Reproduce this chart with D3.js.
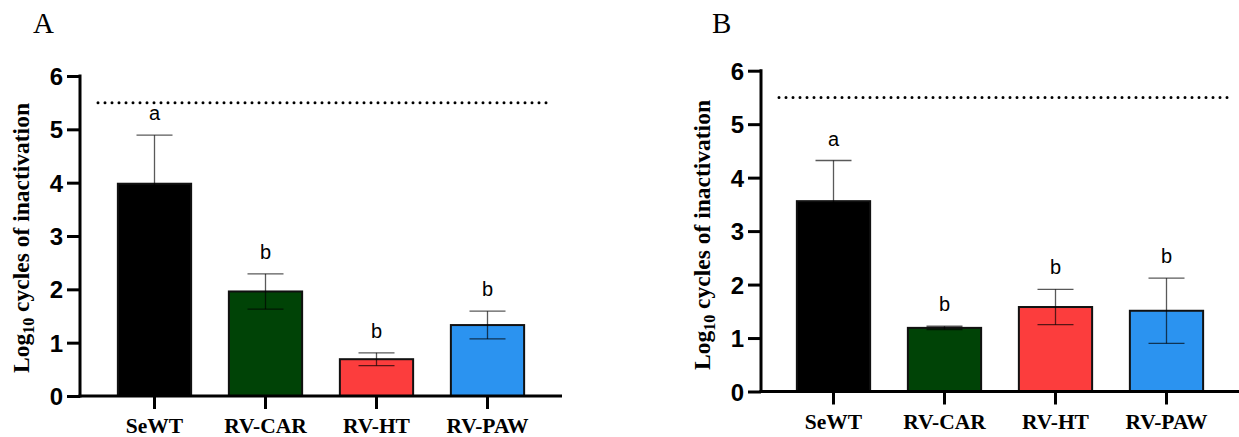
<!DOCTYPE html>
<html>
<head>
<meta charset="utf-8">
<script src="https://cdn.jsdelivr.net/npm/d3@7"></script>
<style>
  body { margin: 0; background: #fff; }
  svg { display: block; }
</style>
</head>
<body>
<div id="chart"></div>
<script>
// ========================
// Data
// ========================
const groups = ["SeWT", "RV-CAR", "RV-HT", "RV-PAW"];
const colors = ["#000000", "#004306", "#fc3d3d", "#2b93f0"];
const yTicks = [0, 1, 2, 3, 4, 5, 6];
const detectionLimit = 5.5;

const meansA = [3.98, 1.96, 0.69, 1.33];
const sdA = [0.91, 0.33, 0.12, 0.26];
const lettersA = ["a", "b", "b", "b"];

const meansB = [3.56, 1.19, 1.58, 1.51];
const sdB = [0.76, 0.03, 0.33, 0.61];
const lettersB = ["a", "b", "b", "b"];

const width = 1239, height = 437;

const svg = d3.select("#chart")
  .append("svg")
  .attr("width", width)
  .attr("height", height);

function drawPanel(opts) {
  const g = svg.append("g");

  const y = d3.scaleLinear().domain([0, 6]).range([opts.y0, opts.y6]);
  const x = d3.scaleBand()
    .domain(groups)
    .range([opts.bandStart, opts.bandStart + 444])
    .paddingInner(0.34)
    .paddingOuter(0.17);

  // panel letter
  g.append("text")
    .attr("x", opts.letterX)
    .attr("y", 33)
    .style("font-family", "'Liberation Serif', 'Times New Roman', serif")
    .style("font-size", "29px")
    .text(opts.letter);

  // detection limit (dotted)
  g.append("line")
    .attr("x1", opts.axisX + 18)
    .attr("x2", opts.axisX + 473)
    .attr("y1", y(detectionLimit))
    .attr("y2", y(detectionLimit))
    .attr("stroke", "#000")
    .attr("stroke-width", 3)
    .attr("stroke-linecap", "round")
    .attr("stroke-dasharray", "0,7");

  const data = groups.map((d, i) => ({
    group: d, mean: opts.means[i], sd: opts.sd[i], letter: opts.letters[i], color: colors[i]
  }));

  // bars
  g.selectAll(".bar")
    .data(data)
    .enter()
    .append("rect")
    .attr("class", "bar")
    .attr("x", d => x(d.group))
    .attr("width", x.bandwidth())
    .attr("y", d => y(d.mean))
    .attr("height", d => y(0) - y(d.mean))
    .attr("fill", d => d.color)
    .attr("stroke", "#111")
    .attr("stroke-width", 2);

  // error bars (thin black, semi-transparent so they read grey on white)
  const capW = 36;
  const cx = d => x(d.group) + x.bandwidth() / 2;
  const eb = g.selectAll(".err")
    .data(data)
    .enter()
    .append("g")
    .attr("class", "err")
    .attr("stroke", "#000")
    .attr("stroke-opacity", 0.65)
    .attr("stroke-width", 1.3);

  eb.append("line")
    .attr("x1", cx).attr("x2", cx)
    .attr("y1", d => y(d.mean + d.sd))
    .attr("y2", d => y(Math.max(0, d.mean - d.sd)));

  eb.append("line")
    .attr("x1", d => cx(d) - capW / 2)
    .attr("x2", d => cx(d) + capW / 2)
    .attr("y1", d => y(d.mean + d.sd))
    .attr("y2", d => y(d.mean + d.sd));

  eb.append("line")
    .attr("x1", d => cx(d) - capW / 2)
    .attr("x2", d => cx(d) + capW / 2)
    .attr("y1", d => y(d.mean - d.sd))
    .attr("y2", d => y(d.mean - d.sd));

  // significance letters
  g.selectAll(".sig")
    .data(data)
    .enter()
    .append("text")
    .attr("class", "sig")
    .attr("x", cx)
    .attr("y", d => y(d.mean + d.sd) - 15)
    .attr("text-anchor", "middle")
    .style("font-family", "'Liberation Sans', Arial, sans-serif")
    .style("font-size", "20px")
    .text(d => d.letter);

  // y axis
  const yAxis = d3.axisLeft(y)
    .tickValues(yTicks)
    .tickFormat(d3.format("d"))
    .tickSize(13)
    .tickPadding(4);

  const ya = g.append("g")
    .attr("transform", `translate(${opts.axisX},0)`)
    .call(yAxis);
  ya.select(".domain").remove();
  ya.selectAll(".tick line").attr("stroke", "#000").attr("stroke-width", 3);
  ya.selectAll(".tick text")
    .attr("fill", "#000")
    .style("font-family", "'Liberation Sans', Arial, sans-serif")
    .style("font-weight", "bold")
    .style("font-size", "24px")
    .attr("dy", "0.36em");
  ya.append("line")
    .attr("x1", 0).attr("x2", 0)
    .attr("y1", y(6) - 1.5).attr("y2", y(0) + 1.5)
    .attr("stroke", "#000").attr("stroke-width", 3);

  // x axis
  const xAxis = d3.axisBottom(x).tickSize(13).tickPadding(9);
  const xa = g.append("g")
    .attr("transform", `translate(0,${y(0)})`)
    .call(xAxis);
  xa.select(".domain").remove();
  xa.selectAll(".tick line").attr("stroke", "#000").attr("stroke-width", 3);
  xa.selectAll(".tick text")
    .attr("fill", "#000")
    .style("font-family", "'Liberation Serif', 'Times New Roman', serif")
    .style("font-weight", "bold")
    .style("font-size", "21.5px");
  xa.append("line")
    .attr("x1", opts.axisX - 1.5).attr("x2", opts.axisX + 482)
    .attr("y1", 0).attr("y2", 0)
    .attr("stroke", "#000").attr("stroke-width", 3);

  // y label
  const lbl = g.append("text")
    .attr("transform", `translate(${opts.labelX},${opts.labelY}) rotate(-90)`)
    .attr("text-anchor", "middle")
    .style("font-family", "'Liberation Serif', 'Times New Roman', serif")
    .style("font-weight", "bold")
    .style("font-size", "23.5px");
  lbl.append("tspan").text("Log");
  lbl.append("tspan").attr("dy", 5).style("font-size", "16px").text("10");
  lbl.append("tspan").attr("dy", -5).text(" cycles of inactivation");
}

drawPanel({
  letter: "A", letterX: 33,
  axisX: 80, y0: 396, y6: 76, bandStart: 99,
  labelX: 29, labelY: 238,
  means: meansA, sd: sdA, letters: lettersA
});

drawPanel({
  letter: "B", letterX: 712,
  axisX: 761, y0: 391.5, y6: 70.7, bandStart: 778,
  labelX: 710, labelY: 235,
  means: meansB, sd: sdB, letters: lettersB
});
</script>
</body>
</html>
